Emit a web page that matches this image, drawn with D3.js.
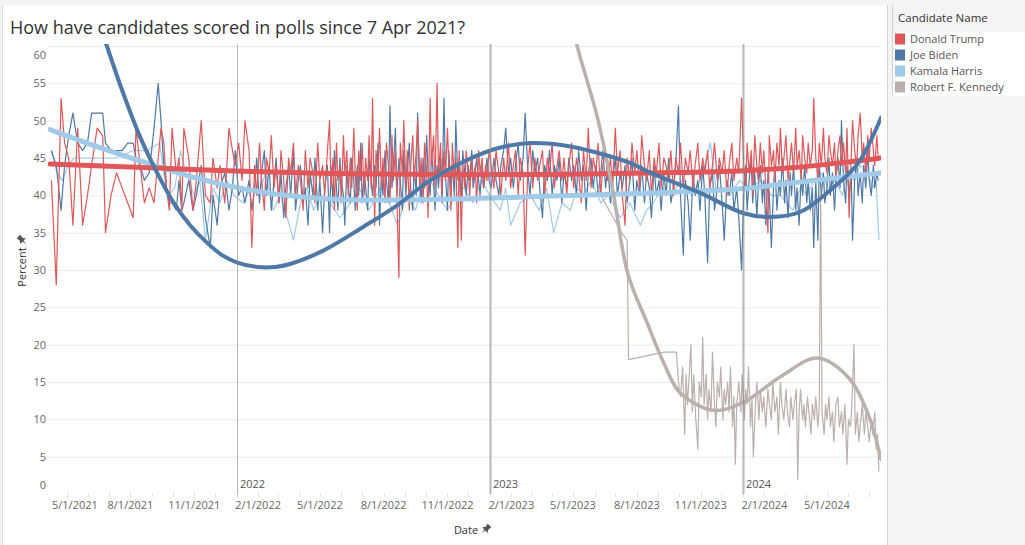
<!DOCTYPE html>
<html><head><meta charset="utf-8">
<script src="https://cdn.jsdelivr.net/npm/d3@7"></script>
<style>
html,body{margin:0;padding:0;background:#f4f4f4;}
svg{display:block;font-family:"Open Sans",sans-serif;}
</style></head><body>
<svg id="c" width="1025" height="545"></svg>
<script>
const title = "How have candidates scored in polls since 7 Apr 2021?";
const legendTitle = "Candidate Name";
const candidates = ["Donald Trump","Joe Biden","Kamala Harris","Robert F. Kennedy"];
const colors = ["#e15759","#4e79a7","#a0cbe8","#bab0ac"];
const yTicks = [0,5,10,15,20,25,30,35,40,45,50,55,60];
const xTickLabels = ["5/1/2021","8/1/2021","11/1/2021","2/1/2022","5/1/2022","8/1/2022","11/1/2022","2/1/2023","5/1/2023","8/1/2023","11/1/2023","2/1/2024","5/1/2024"];
const yearLabels = ["2022","2023","2024"];
const xAxisTitle = "Date";
const yAxisTitle = "Percent";
const startDate = "2021-04-07";
const endDate = "2024-07-18";

// days since 7 Apr 2021 of polls reporting Trump and Biden
const pollDays = [2,9,16,21,27,33,40,47,54,60,68,76,80,88,96,104,112,120,124,130,136,143,150,156,160,164,168,172,176,182,186,190,193,200,206,211,218,224,231,235,241,245,252,258,263,267,272,277,281,287,291,
295,298,302,305,309,312,316,319,323,326,330,333,337,340,344,347,351,354,358,361,365,368,372,375,379,382,386,389,393,396,400,
403,405,408,410,413,415,418,420,423,425,428,430,433,435,438,440,443,445,448,450,453,455,458,460,463,465,468,470,473,475,478,480,483,485,488,490,493,495,498,500,503,505,508,510,513,515,518,520,523,525,528,530,533,535,538,540,543,545,548,550,553,555,558,560,563,565,568,570,573,575,578,580,583,585,588,590,593,595,598,600,603,605,608,610,613,615,618,620,623,625,628,630,633,
636,640,643,647,650,654,657,661,664,668,671,675,678,682,685,689,692,696,699,703,706,710,713,717,720,724,727,731,734,738,741,745,748,752,755,759,762,766,769,773,776,780,783,787,790,794,797,801,804,808,811,815,818,822,825,829,832,836,839,843,846,850,853,857,860,864,867,871,874,878,881,885,888,892,895,899,902,906,909,913,916,920,923,927,930,934,937,941,944,948,951,955,958,962,965,969,972,976,979,983,986,990,993,997,
1000,1003,1005,1008,1011,1013,1016,1019,1021,1024,1027,1029,1032,1035,1037,1040,1043,1045,1048,1051,1053,1056,1059,1061,1064,1067,1069,1072,1075,1077,1080,1083,1085,1088,1091,1093,1096,1099,1101,1104,1107,1109,1112,1115,1117,1120,1123,1125,1128,1131,1133,1136,1139,1141,1144,1147,1149,1152,1155,1157,1160,1163,1165,1168,1171,1173,1176,1179,1181,1184,1187,1189,1192,1194];

const trumpValues = [42,28,53,47,45,36,49,36,40,44,49,48,35,40,43,41,39,37,49,44,39,41,39,45,49,47,41,38,49,43,45,38,49,45,38,42,50,40,39,45,41,44,39,49,46,44,47,42,50,46,33,
44,40,47,42,38,45,43,48,41,44,39,46,42,37,45,43,47,40,44,42,38,46,41,45,43,39,47,42,44,40,46,
50,41,45,38,47,42,44,39,48,43,46,40,45,41,49,43,38,46,42,47,40,45,42,48,41,53,36,46,43,49,41,45,39,47,44,39,48,42,46,40,29,47,43,50,41,46,38,44,48,42,46,50,41,45,39,47,43,37,53,44,48,41,55,43,47,40,46,42,49,44,38,47,42,45,33,46,34,44,41,46,43,40,45,42,44,39,46,43,45,41,44,42,46,
44,41,46,43,40,45,42,47,41,44,46,40,45,43,32,44,47,41,45,42,44,46,40,45,43,47,41,44,46,42,45,40,44,47,41,45,43,39,46,42,49,41,45,43,47,40,44,46,42,45,41,49,43,46,40,36,45,42,47,43,46,41,48,44,42,46,40,45,43,47,41,45,44,42,46,40,45,43,47,41,45,43,46,41,44,47,42,45,43,46,41,44,47,42,45,43,46,40,44,47,42,45,43,53,
44,41,47,43,46,40,48,44,42,47,43,46,41,35,48,44,46,42,47,44,49,43,46,48,42,45,47,43,49,44,46,42,48,45,43,47,44,46,53,45,42,47,44,49,45,43,48,46,44,47,42,46,48,44,47,43,49,37,45,50,46,44,48,51,45,47,43,48,45,49,46,44,48,45];

const bidenValues = [46,44,38,44,48,51,47,46,47,51,51,51,47,46,46,46,47,47,45,44,42,43,49,55,50,44,41,39,39,38,42,38,39,42,38,40,44,37,33,40,36,41,43,38,41,46,40,41,39,42,38,
41,45,39,43,46,40,44,38,42,45,39,43,37,41,44,40,46,38,42,44,39,41,36,43,40,45,38,42,35,41,44,
35,44,39,46,41,38,45,42,40,36,44,41,39,45,42,38,44,40,47,39,43,41,38,45,42,40,44,41,47,36,43,40,46,42,39,52,41,44,49,40,45,42,38,46,40,43,47,41,38,44,40,51,42,39,45,41,48,43,40,46,42,38,44,41,45,39,53,43,38,46,41,44,40,50,42,45,39,46,43,40,44,42,46,41,43,45,42,40,44,41,43,45,42,
41,45,42,40,44,46,49,43,45,41,44,47,42,45,51,43,40,46,43,45,41,37,44,42,46,40,44,42,45,39,43,41,45,42,44,40,46,42,44,38,43,45,41,44,40,43,46,41,44,39,42,45,40,43,41,44,39,42,45,38,42,40,44,39,43,41,37,44,40,42,38,43,40,45,39,41,44,52,40,32,42,39,34,43,40,42,38,44,40,31,41,43,38,41,44,39,34,42,40,43,38,41,37,30,
40,44,38,42,45,39,43,37,41,44,39,42,36,43,40,33,41,44,38,42,40,45,39,42,37,43,40,44,38,41,36,43,40,44,39,42,38,41,33,42,34,44,40,43,39,41,45,40,43,38,42,45,41,50,42,39,44,40,43,34,42,45,40,43,39,44,41,46,42,40,44,41,43,42];

const harrisDays = [2,10,18,26,35,47,66,95,120,140,158,166,170,180,188,196,208,216,224,235,245,255,265,278,290,300,311,322,332,342,351,361,370,380,390,404,418,433,446,460,476,489,501,514,527,538,548,560,573,585,596,610,622,634,649,657,664,678,693,705,716,726,738,750,760,769,780,794,805,822,836,851,860,870,882,895,910,925,938,952,960,967,980,994,1010,1025,1040,1053,1062,1071,1082,1092,1101,1112,1122,1132,1142,1150,1159,1168,1179,1186,1191,1195];
const harrisValues = [46,43,42,44,45,45,45,45,46,46,47,42,40,41,46,43,40,42,34,41,39,42,40,39,41,40,43,38,40,37,34,39,41,38,40,39,37,39,41,38,41,39,36,40,38,42,42,40,38,40,41,39,42,40,38,41,36,39,40,38,41,35,39,38,41,40,42,39,40,37,39,36,38,39,41,40,42,40,42,47,41,41,40,42,41,42,40,40,39,38,41,40,42,43,41,42,40,43,42,44,43,41,42,34];

const rfkDays = [789,800,812,824,832,834,860,885,903,907,909,912,915,917,919,921,924,926,928,931,934,936,939,941,943,946,948,950,953,955,958,960,962,965,967,970,972,974,977,979,981,984,986,988,990,993,996,998,1001,1003,1005,1007,1010,1012,1014,1017,1019,1022,1024,1027,1029,1032,1035,1037,1040,1042,1045,1048,1050,1053,1055,1058,1061,1063,1066,1068,1071,1073,1076,1078,1080,1082,1085,1087,1089,1092,1094,1097,1099,1102,1104,1107,1109,1111,1113,1116,1118,1120,1123,1125,1128,1130,1133,1136,1138,1141,1143,1146,1149,1151,1154,1156,1159,1161,1164,1166,1169,1171,1174,1176,1179,1181,1184,1186,1189,1191,1193,1195];
const rfkValues = [41,39,37,35,34,18,18.5,19,19,14,13,17,8,16,12,15,20,11,16,10,6,15,13,21,12,16,10,14,11,19,12,9,15,13,17,10,14,12,15,11,17,9,13,4,12,15,11,16,10,14,12,17,9,13,5,12,15,10,14,11,13,9,14,12,10,15,11,13,8,15,12,10,14,11,9,13,10,12,14,2,11,14,10,12,9,13,11,8,12,10,13,9,12,41,11,8,12,10,13,9,11,7,12,13,9,11,8,12,4,10,9,12,20,8,11,7,10,12,8,11,9,7,10,8,11,6,8,3];

// trend lines
const trumpTrendDays = [0,144,289,433,577,722,866,1000,1082,1154,1198];
const trumpTrendValues = [44.2,43.7,43.2,42.9,42.8,42.8,43.0,43.3,43.8,44.5,45.0];
const bidenTrendDays = [0,58,82,107,130,154,177,202,227,248,270,299,325,346,394,452,501,548,596,645,693,740,789,837,866,938,1000,1039,1082,1130,1165,1198];
const bidenTrendValues = [88,67,60,53.3,47.8,43.1,39.2,36.0,33.6,32.0,31.0,30.4,30.4,30.8,32.6,35.8,38.7,42.0,44.5,46.3,47.0,46.7,45.7,44.3,43.0,40.3,37.6,37.1,37.8,41.1,44.3,50.4];
const harrisTrendDays = [0,72,144,216,289,361,433,577,722,866,1000,1082,1198];
const harrisTrendValues = [48.8,46.4,44.2,42.2,40.7,39.8,39.4,39.5,39.9,40.3,40.9,41.8,43.0];
const rfkTrendDays = [740,760,789,812,833,861,885,909,957,1000,1053,1106,1150,1179,1198];
const rfkTrendValues = [68,60,50.5,40.3,29.5,22.9,17.5,13.5,11.2,12.3,15.7,18.2,15.7,10.8,4.6];

const parseISO = d3.timeParse("%Y-%m-%d");
const parseUS = d3.timeParse("%m/%d/%Y");
const t0 = parseISO(startDate);
const toDate = d => d3.timeDay.offset(t0, d);
const zip = (days, vals) => days.map((d,i)=>({date:toDate(d), v:vals[i]}));

const x = d3.scaleTime().domain([t0, parseISO(endDate)]).range([50, 881]);
const y = d3.scaleLinear().domain([0,60]).range([494,46]);

const svg = d3.select("#c");
svg.append("rect").attr("width",1025).attr("height",545).attr("fill","#f4f4f4");
svg.append("rect").attr("x",3).attr("y",5).attr("width",884).attr("height",540).attr("fill","#fff");
svg.append("line").attr("x1",2.5).attr("x2",2.5).attr("y1",5).attr("y2",545).attr("stroke","#d9d9d9");
svg.append("line").attr("x1",887.5).attr("x2",887.5).attr("y1",5).attr("y2",545).attr("stroke","#d4d4d4");

// title
svg.append("text").attr("x",10).attr("y",34).attr("font-size",18).attr("fill","#333").text(title);

// legend
svg.append("rect").attr("x",892).attr("y",32).attr("width",133).attr("height",64).attr("fill","#fff");
svg.append("line").attr("x1",892.5).attr("x2",892.5).attr("y1",5).attr("y2",96).attr("stroke","#d0d0d0");
svg.append("text").attr("x",898).attr("y",22).attr("font-size",11.5).attr("fill","#333").text(legendTitle);
const leg = svg.append("g").selectAll("g").data(candidates).join("g")
  .attr("transform",(d,i)=>`translate(0,${39 + i*16})`);
leg.append("rect").attr("x",895).attr("y",-5.5).attr("width",10).attr("height",11).attr("fill",(d,i)=>colors[i]);
leg.append("text").attr("x",910).attr("y",4).attr("font-size",11).attr("fill","#555").text(d=>d);

// grid
const grid = svg.append("g");
grid.selectAll("line").data(yTicks.filter(v=>v>0)).join("line")
  .attr("x1",48).attr("x2",881).attr("y1",v=>y(v)+0.5).attr("y2",v=>y(v)+0.5)
  .attr("stroke","#ececec");
svg.append("g").selectAll("text").data(yTicks).join("text")
  .attr("x",46).attr("y",v=>Math.max(55,Math.min(485,y(v)))).attr("dy","0.35em")
  .attr("text-anchor","end").attr("font-size",11).attr("fill","#666").text(v=>v);

// x month ticks
const months = d3.timeMonth.range(d3.timeMonth.ceil(t0), parseISO(endDate));
svg.append("g").selectAll("line").data(months).join("line")
  .attr("x1",d=>Math.round(x(d))+0.5).attr("x2",d=>Math.round(x(d))+0.5).attr("y1",493).attr("y2",497)
  .attr("stroke","#e2e2e2");
const xl = svg.append("g").selectAll("text").data(xTickLabels).join("text")
  .attr("x",d=>x(parseUS(d))).attr("y",509).attr("text-anchor","middle")
  .attr("font-size",11).attr("fill","#666").text(d=>d);
xl.each(function(d){
  const w = this.getComputedTextLength();
  const cx = x(parseUS(d));
  if (cx - w/2 < 52) d3.select(this).attr("x", 52 + w/2);
});

// axis titles
function pin(px, py, rot){
  svg.append("path").attr("transform",`translate(${px},${py}) rotate(${rot})`)
    .attr("d","M-2.5,-5 L2.5,-5 L2,-1 L4,1.5 L-4,1.5 L-2,-1 Z M-0.7,1.5 L0.7,1.5 L0,6 Z")
    .attr("fill","#555");
}
svg.append("text").attr("x",466).attr("y",534).attr("text-anchor","middle").attr("font-size",11).attr("fill","#333").text(xAxisTitle);
pin(486,529,45);
svg.append("text").attr("transform","translate(26,267) rotate(-90)").attr("text-anchor","middle").attr("font-size",11).attr("fill","#333").text(yAxisTitle);
pin(22,240,-45);

// clip
svg.append("defs").append("clipPath").attr("id","clip").append("rect")
  .attr("x",48).attr("y",44).attr("width",833).attr("height",450);
const plot = svg.append("g").attr("clip-path","url(#clip)");

const line = d3.line().x(d=>x(d.date)).y(d=>y(d.v));
const smooth = d3.line().x(d=>x(d.date)).y(d=>y(d.v)).curve(d3.curveCatmullRom);

const series = [
  {data: zip(harrisDays, harrisValues), c: colors[2]},
  {data: zip(pollDays, bidenValues), c: colors[1]},
  {data: zip(rfkDays, rfkValues), c: colors[3]},
  {data: zip(pollDays, trumpValues), c: colors[0]}
];
series.forEach(s=>{
  plot.append("path").attr("d", line(s.data)).attr("fill","none")
    .attr("stroke", s.c).attr("stroke-width",1.2).attr("stroke-linejoin","round");
});

const trends = [
  {data: zip(harrisTrendDays, harrisTrendValues), c: colors[2], w: 5},
  {data: zip(trumpTrendDays, trumpTrendValues), c: colors[0], w: 5},
  {data: zip(rfkTrendDays, rfkTrendValues), c: colors[3], w: 3.5},
  {data: zip(bidenTrendDays, bidenTrendValues), c: colors[1], w: 4}
];
trends.forEach(s=>{
  plot.append("path").attr("d", smooth(s.data)).attr("fill","none")
    .attr("stroke", s.c).attr("stroke-width",s.w).attr("stroke-linecap","round");
});

// year reference lines
yearLabels.forEach((yr,i)=>{
  const xx = Math.round(x(parseISO(yr+"-01-01")));
  svg.append("line").attr("x1",xx+0.5).attr("x2",xx+0.5).attr("y1",44).attr("y2",494)
    .attr("stroke","#888").attr("stroke-opacity",0.6).attr("stroke-width", i===0?1:2);
  svg.append("text").attr("x",xx+3).attr("y",488).attr("font-size",11).attr("fill","#555").text(yr);
});
</script>
</body></html>
